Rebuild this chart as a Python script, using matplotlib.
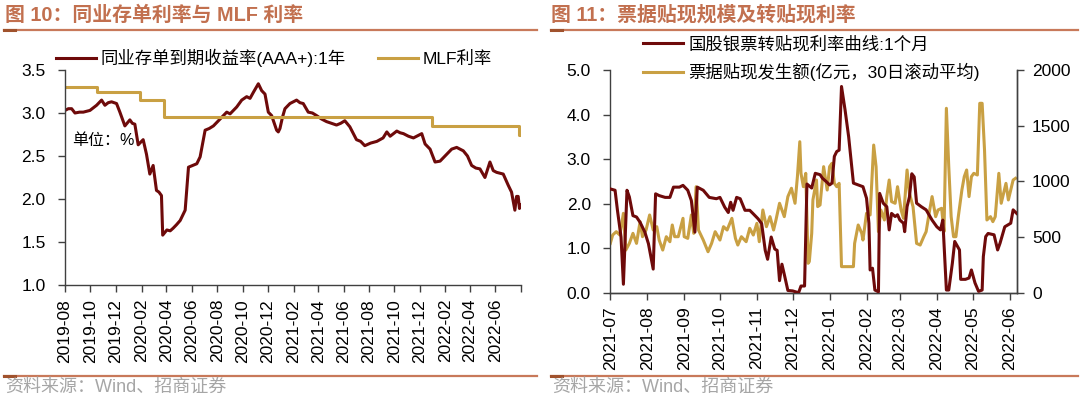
import matplotlib
matplotlib.use("Agg")
import matplotlib.pyplot as plt
import matplotlib.dates as mdates
from matplotlib.lines import Line2D
import pandas as pd

plt.rcParams['font.family'] = ['Liberation Sans', 'Noto Sans CJK SC']
plt.rcParams['axes.unicode_minus'] = False

# ---------------- Left chart data ----------------
ncd_dates = ["2019-08-01", "2019-08-09", "2019-08-17", "2019-08-25", "2019-09-05", "2019-09-14", "2019-09-22",
             "2019-09-30", "2019-10-08", "2019-10-16", "2019-10-22", "2019-10-28", "2019-11-05", "2019-11-13",
             "2019-11-21", "2019-12-03", "2019-12-11", "2019-12-17", "2019-12-23", "2020-01-04", "2020-01-10",
             "2020-01-16", "2020-01-24", "2020-02-05", "2020-02-13", "2020-02-21", "2020-02-29", "2020-03-08",
             "2020-03-14", "2020-03-20", "2020-03-23", "2020-04-02", "2020-04-10", "2020-04-17", "2020-04-25",
             "2020-05-04", "2020-05-16", "2020-05-24", "2020-06-03", "2020-06-13", "2020-06-21", "2020-07-03",
             "2020-07-13", "2020-07-23", "2020-08-08", "2020-08-24", "2020-09-01", "2020-09-17", "2020-09-29",
             "2020-10-11", "2020-10-19", "2020-10-27", "2020-11-08", "2020-11-16", "2020-11-24", "2020-12-02",
             "2020-12-10", "2020-12-22", "2020-12-26", "2020-12-30", "2021-01-05", "2021-01-11", "2021-01-23",
             "2021-02-08", "2021-02-16", "2021-02-24", "2021-03-08", "2021-03-18", "2021-03-28", "2021-04-09",
             "2021-04-21", "2021-05-03", "2021-05-15", "2021-05-25", "2021-06-04", "2021-06-16", "2021-07-02",
             "2021-07-12", "2021-07-22", "2021-08-05", "2021-08-20", "2021-09-04", "2021-09-13", "2021-09-21",
             "2021-10-07", "2021-10-15", "2021-10-23", "2021-11-04", "2021-11-16", "2021-11-28", "2021-12-06",
             "2021-12-14", "2021-12-26", "2022-01-07", "2022-01-19", "2022-02-04", "2022-02-16", "2022-02-28",
             "2022-03-16", "2022-03-26", "2022-04-05", "2022-04-15", "2022-04-25", "2022-05-07", "2022-05-19",
             "2022-05-27", "2022-06-04", "2022-06-20", "2022-07-02", "2022-07-10", "2022-07-18", "2022-07-22",
             "2022-07-26", "2022-07-29", "2022-08-01"]
ncd_vals = [3.03, 3.05, 3.05, 3.00, 3.01, 3.01, 3.02,
            3.03, 3.06, 3.09, 3.12, 3.15, 3.09, 3.12,
            3.13, 3.11, 3.01, 2.93, 2.85, 2.92, 2.88,
            2.87, 2.63, 2.69, 2.52, 2.29, 2.39, 2.10,
            2.08, 2.04, 1.58, 1.64, 1.63, 1.66, 1.70,
            1.75, 1.87, 2.37, 2.39, 2.41, 2.49, 2.80,
            2.82, 2.85, 2.93, 3.01, 2.99, 3.07, 3.15,
            3.19, 3.17, 3.24, 3.34, 3.26, 3.22, 3.01,
            2.97, 2.80, 2.78, 2.82, 2.95, 3.05, 3.11,
            3.15, 3.12, 3.11, 3.01, 3.00, 2.97, 2.93,
            2.90, 2.88, 2.86, 2.88, 2.91, 2.84, 2.69,
            2.67, 2.62, 2.65, 2.67, 2.71, 2.78, 2.73,
            2.79, 2.77, 2.76, 2.73, 2.71, 2.74, 2.76,
            2.64, 2.58, 2.43, 2.44, 2.52, 2.58, 2.60,
            2.56, 2.50, 2.39, 2.36, 2.35, 2.25, 2.43,
            2.33, 2.31, 2.29, 2.16, 2.08, 1.87, 2.03,
            2.03, 1.89, 1.93]

mlf_dates = ["2019-08-01", "2019-10-16", "2020-01-28", "2020-03-27", "2021-12-30", "2022-07-27", "2022-08-02"]
mlf_vals = [3.30, 3.25, 3.15, 2.95, 2.85, 2.75, 2.75]

left_ticks = ["2019-08", "2019-10", "2019-12", "2020-02", "2020-04", "2020-06", "2020-08", "2020-10",
              "2020-12", "2021-02", "2021-04", "2021-06", "2021-08", "2021-10", "2021-12", "2022-02",
              "2022-04", "2022-06", "2022-08"]

# ---------------- Right chart data ----------------
rate_dates = ["2021-07-01", "2021-07-05", "2021-07-07", "2021-07-10", "2021-07-12", "2021-07-15", "2021-07-17",
              "2021-07-20", "2021-07-23", "2021-07-26", "2021-07-30", "2021-08-02", "2021-08-06", "2021-08-08",
              "2021-08-11", "2021-08-16", "2021-08-20", "2021-08-23", "2021-08-28", "2021-08-31", "2021-09-04",
              "2021-09-07", "2021-09-10", "2021-09-12", "2021-09-17", "2021-09-22", "2021-09-28", "2021-10-01",
              "2021-10-05", "2021-10-08", "2021-10-10", "2021-10-12", "2021-10-15", "2021-10-18", "2021-10-22",
              "2021-10-26", "2021-10-29", "2021-11-02", "2021-11-05", "2021-11-08", "2021-11-10", "2021-11-13",
              "2021-11-16", "2021-11-18", "2021-11-20", "2021-11-22", "2021-11-24", "2021-11-27", "2021-12-01",
              "2021-12-06", "2021-12-08", "2021-12-11", "2021-12-13", "2021-12-17", "2021-12-20", "2021-12-24",
              "2021-12-26", "2021-12-29", "2022-01-01", "2022-01-03", "2022-01-05", "2022-01-07", "2022-01-09",
              "2022-01-11", "2022-01-14", "2022-01-17", "2022-01-19", "2022-01-21", "2022-01-25", "2022-01-29",
              "2022-02-01", "2022-02-03", "2022-02-04", "2022-02-06", "2022-02-08", "2022-02-11", "2022-02-12",
              "2022-02-15", "2022-02-18", "2022-02-20", "2022-02-22", "2022-02-25", "2022-02-27", "2022-03-01",
              "2022-03-04", "2022-03-05", "2022-03-07", "2022-03-09", "2022-03-11", "2022-03-13", "2022-03-15",
              "2022-03-19", "2022-03-23", "2022-03-28", "2022-04-01", "2022-04-04", "2022-04-06", "2022-04-09",
              "2022-04-11", "2022-04-14", "2022-04-16", "2022-04-20", "2022-04-21", "2022-04-25", "2022-04-28",
              "2022-04-30", "2022-05-03", "2022-05-06", "2022-05-09", "2022-05-10", "2022-05-12", "2022-05-14",
              "2022-05-19", "2022-05-22", "2022-05-24", "2022-05-28", "2022-06-02", "2022-06-04", "2022-06-07"]
rate_vals = [2.33, 2.30, 1.85, 1.25, 0.19, 2.30, 2.15,
             1.73, 1.70, 1.58, 1.36, 1.10, 0.53, 2.22,
             2.18, 2.14, 2.14, 2.37, 2.37, 2.41, 2.30,
             2.07, 1.36, 2.37, 2.30, 2.14, 2.11, 2.14,
             1.92, 1.80, 2.03, 1.85, 2.14, 2.11, 1.85,
             1.85, 1.77, 1.66, 1.55, 0.95, 0.75, 1.25,
             0.98, 0.95, 0.27, 0.64, 0.41, 0.05, 0.04,
             0.00, 0.15, 0.15, 2.44, 2.35, 2.68, 2.65,
             2.57, 2.50, 2.42, 2.46, 3.06, 3.17, 3.20,
             4.63, 4.10, 3.50, 2.98, 2.46, 2.42, 2.38,
             2.12, 1.56, 0.51, 0.55, 0.06, 0.02, 2.23,
             2.01, 1.93, 1.41, 1.78, 1.71, 1.75, 1.63,
             1.56, 1.37, 1.93, 2.15, 2.67, 2.60, 2.01,
             1.93, 1.86, 1.63, 1.48, 1.41, 1.63, 0.06,
             0.06, 0.66, 1.15, 0.96, 0.30, 0.30, 0.33,
             0.51, 0.22, 0.03, 0.06, 0.81, 1.26, 1.33,
             1.30, 0.96, 1.11, 1.48, 1.56, 1.86, 1.78]

disc_dates = ["2021-07-01", "2021-07-03", "2021-07-06", "2021-07-09", "2021-07-12", "2021-07-14", "2021-07-17",
              "2021-07-20", "2021-07-23", "2021-07-26", "2021-07-28", "2021-07-31", "2021-08-03", "2021-08-06",
              "2021-08-09", "2021-08-11", "2021-08-14", "2021-08-17", "2021-08-20", "2021-08-22", "2021-08-24",
              "2021-08-27", "2021-08-31", "2021-09-01", "2021-09-04", "2021-09-07", "2021-09-09", "2021-09-11",
              "2021-09-13", "2021-09-17", "2021-09-21", "2021-09-24", "2021-09-27", "2021-10-01", "2021-10-04",
              "2021-10-07", "2021-10-11", "2021-10-14", "2021-10-16", "2021-10-19", "2021-10-23", "2021-10-26",
              "2021-10-29", "2021-11-01", "2021-11-03", "2021-11-06", "2021-11-09", "2021-11-12", "2021-11-15",
              "2021-11-17", "2021-11-20", "2021-11-24", "2021-11-27", "2021-11-30", "2021-12-03", "2021-12-05",
              "2021-12-07", "2021-12-08", "2021-12-10", "2021-12-12", "2021-12-14", "2021-12-15", "2021-12-17",
              "2021-12-18", "2021-12-21", "2021-12-22", "2021-12-24", "2021-12-27", "2021-12-30", "2022-01-01",
              "2022-01-03", "2022-01-05", "2022-01-07", "2022-01-09", "2022-01-11", "2022-01-21", "2022-01-22",
              "2022-01-25", "2022-01-28", "2022-01-29", "2022-02-01", "2022-02-04", "2022-02-07", "2022-02-09",
              "2022-02-11", "2022-02-13", "2022-02-16", "2022-02-18", "2022-02-20", "2022-02-22", "2022-02-25",
              "2022-02-27", "2022-03-02", "2022-03-04", "2022-03-07", "2022-03-09", "2022-03-12", "2022-03-15",
              "2022-03-18", "2022-03-21", "2022-03-23", "2022-03-26", "2022-03-28", "2022-03-31", "2022-04-02",
              "2022-04-05", "2022-04-07", "2022-04-09", "2022-04-11", "2022-04-13", "2022-04-15", "2022-04-17",
              "2022-04-19", "2022-04-22", "2022-04-24", "2022-04-26", "2022-04-28", "2022-04-30", "2022-05-02",
              "2022-05-05", "2022-05-07", "2022-05-09", "2022-05-11", "2022-05-13", "2022-05-16", "2022-05-18",
              "2022-05-20", "2022-05-23", "2022-05-25", "2022-05-27", "2022-05-29", "2022-05-31", "2022-06-02",
              "2022-06-04", "2022-06-06"]
disc_vals = [443, 518, 548, 518, 713, 383, 443,
             533, 443, 638, 503, 563, 698, 563,
             593, 473, 383, 503, 458, 608, 503,
             503, 668, 503, 488, 698, 533, 952,
             563, 473, 368, 443, 548, 473, 593,
             563, 668, 488, 428, 503, 458, 578,
             518, 623, 458, 743, 593, 683, 563,
             653, 803, 683, 863, 938, 803, 1042,
             1356, 1072, 952, 1072, 264, 280, 533,
             833, 1012, 773, 788, 1132, 922, 1132,
             1162, 982, 952, 982, 234, 234, 443,
             608, 533, 473, 713, 698, 1326, 1132,
             548, 743, 653, 863, 1012, 818, 803,
             952, 743, 668, 1102, 892, 773, 443,
             428, 503, 548, 743, 863, 683, 743,
             758, 548, 1656, 1132, 683, 503, 503,
             683, 922, 1042, 1102, 863, 1042, 1072,
             1057, 1701, 1701, 1281, 653, 683, 638,
             683, 1072, 803, 892, 982, 833, 922,
             1012, 1027]

right_ticks = ["2021-07", "2021-08", "2021-09", "2021-10", "2021-11", "2021-12", "2022-01", "2022-02",
               "2022-03", "2022-04", "2022-05", "2022-06"]

# ---------------- Style ----------------
MAROON = "#6E0A0A"
GOLD = "#C9A043"
TITLE_C = "#C2704F"
AX_C = "#404040"
FS = 12.5

W, H = 1080, 399
fig = plt.figure(figsize=(W / 100, H / 100), dpi=100)


def fx(px):
    return px / W


def fy(py):
    return 1 - py / H


def style_axis(ax, right=False):
    for s in ["top"]:
        ax.spines[s].set_visible(False)
    if not right:
        ax.spines["right"].set_visible(False)
    for s in ax.spines.values():
        s.set_color(AX_C)
        s.set_linewidth(1.0)
    ax.tick_params(axis="both", direction="out", length=5, width=1.0, color=AX_C,
                   labelsize=FS, labelcolor="black")
    ax.tick_params(axis="y", pad=9)
    ax.tick_params(axis="x", pad=5)


# ---------------- Left chart ----------------
ax1 = fig.add_axes([fx(65), fy(285), fx(520.7 - 65), (285 - 70) / H])
ax1.plot(pd.to_datetime(ncd_dates), ncd_vals, color=MAROON, lw=2.2, label="同业存单到期收益率(AAA+):1年")
ax1.plot(pd.to_datetime(mlf_dates), mlf_vals, color=GOLD, lw=2.2, drawstyle="steps-post", label="MLF利率")
ax1.set_ylim(1.0, 3.5)
ax1.set_yticks([1.0, 1.5, 2.0, 2.5, 3.0, 3.5])
ax1.yaxis.set_major_formatter(matplotlib.ticker.FormatStrFormatter("%.1f"))
ax1.set_xlim(pd.Timestamp("2019-08-01"), pd.Timestamp("2022-08-01"))
lt = pd.to_datetime([t + "-01" for t in left_ticks])
ax1.set_xticks(lt)
ax1.set_xticklabels(left_ticks[:-1] + [""], rotation=90)
style_axis(ax1)
ax1.text(fx(72), fy(140), "单位：%", transform=fig.transFigure, fontsize=11.5, va="center", ha="left")
ax1.legend(loc="center left", bbox_to_anchor=(fx(56), fy(58)), bbox_transform=fig.transFigure,
           ncol=2, frameon=False, fontsize=FS, handlelength=2.3, handletextpad=0.25,
           columnspacing=1.9, borderpad=0, borderaxespad=0)

# ---------------- Right chart ----------------
ax2 = fig.add_axes([fx(610.3), fy(292.7), fx(1016.7 - 610.3), (292.7 - 70) / H])
ax2r = ax2.twinx()
l1, = ax2.plot(pd.to_datetime(rate_dates), rate_vals, color=MAROON, lw=2.2, zorder=3)
l2, = ax2r.plot(pd.to_datetime(disc_dates), disc_vals, color=GOLD, lw=2.2, zorder=2)
ax2.set_zorder(ax2r.get_zorder() + 1)
ax2.patch.set_visible(False)
ax2.set_ylim(0, 5.0)
ax2.set_yticks([0, 1, 2, 3, 4, 5])
ax2.yaxis.set_major_formatter(matplotlib.ticker.FormatStrFormatter("%.1f"))
ax2r.set_ylim(0, 2000)
ax2r.set_yticks([0, 500, 1000, 1500, 2000])
ax2.set_xlim(pd.Timestamp("2021-07-01"), pd.Timestamp("2022-06-07"))
rt = pd.to_datetime([t + "-01" for t in right_ticks])
ax2.set_xticks(rt)
ax2.set_xticklabels(right_ticks, rotation=90)
style_axis(ax2, right=True)
style_axis(ax2r, right=True)
ax2r.spines["left"].set_visible(False)
ax2r.tick_params(axis="y", pad=6)
ax2.legend([l1, l2], ["国股银票转贴现利率曲线:1个月", "票据贴现发生额(亿元，30日滚动平均)"],
           loc="upper left", bbox_to_anchor=(fx(643), fy(36)), bbox_transform=fig.transFigure,
           frameon=False, fontsize=FS, handlelength=2.3, handletextpad=0.3, labelspacing=0.62,
           borderpad=0, borderaxespad=0)

# ---------------- Titles / decorations ----------------
fig.text(fx(5), fy(15), "图 10：同业存单利率与 MLF 利率", fontsize=14.3, fontweight="bold",
         color=TITLE_C, va="center", ha="left")
fig.text(fx(551), fy(15), "图 11：票据贴现规模及转贴现利率", fontsize=14.3, fontweight="bold",
         color=TITLE_C, va="center", ha="left")
for x0, x1 in [(4, 537), (551, 1078)]:
    for yy in (30, 376):
        fig.add_artist(Line2D([fx(x0), fx(x1)], [fy(yy), fy(yy)], color="#C8795A", lw=1.6))
        fig.add_artist(Line2D([fx(x0), fx(x0 + 11)], [fy(yy), fy(yy)], color="#A0522D", lw=2.2))
fig.text(fx(5), fy(387), "资料来源：Wind、招商证券", fontsize=13, color="#A6A6A6", va="center", ha="left")
fig.text(fx(552), fy(387), "资料来源：Wind、招商证券", fontsize=13, color="#A6A6A6", va="center", ha="left")

fig.savefig("out.png", dpi=100)
